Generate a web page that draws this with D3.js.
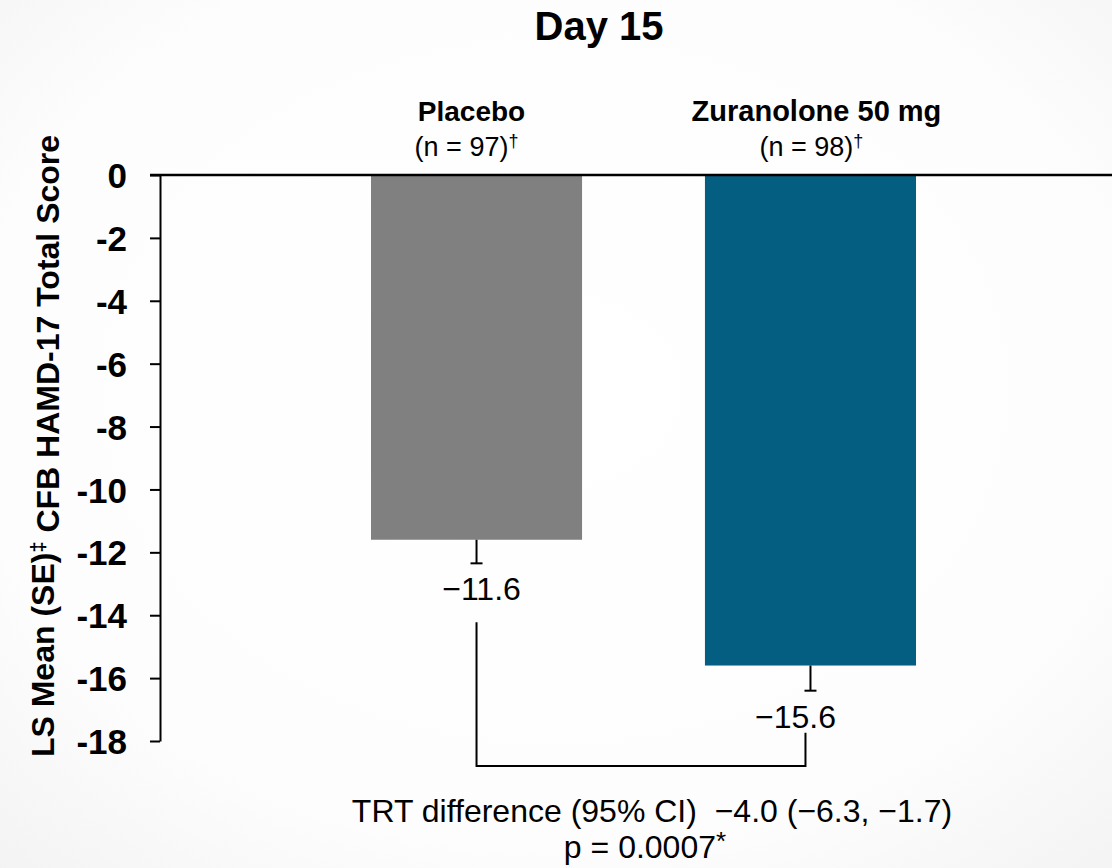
<!DOCTYPE html>
<html>
<head>
<meta charset="utf-8">
<script src="https://cdn.jsdelivr.net/npm/d3@7"></script>
<style>
  html, body { margin: 0; padding: 0; background: #fff; }
  svg { display: block; font-family: Arial, "Liberation Sans", sans-serif; }
</style>
</head>
<body>
<svg id="chart"></svg>
<script>
const groups = ["Placebo", "Zuranolone 50 mg"];
const groupN = ["(n = 97)", "(n = 98)"];
const lsMeans = [-11.6, -15.6];
const seValues = [0.75, 0.8];
const valueLabels = ["\u221211.6", "\u221215.6"];
const yTicks = [0, -2, -4, -6, -8, -10, -12, -14, -16, -18];
const diffText = "TRT difference (95% CI)\u00a0 \u22124.0 (\u22126.3, \u22121.7)";
const pText = "p = 0.0007";
const colors = ["#808080", "#035e82"];

const W = 1112, H = 868;
const svg = d3.select("#chart").attr("width", W).attr("height", H);

// faint backdrop like the slide
const grad = svg.append("defs").append("radialGradient")
  .attr("id", "bg").attr("cx", "50%").attr("cy", "45%").attr("r", "75%");
grad.append("stop").attr("offset", "0%").attr("stop-color", "#ffffff");
grad.append("stop").attr("offset", "70%").attr("stop-color", "#fdfdfd");
grad.append("stop").attr("offset", "100%").attr("stop-color", "#f3f3f3");
svg.append("rect").attr("width", W).attr("height", H).attr("fill", "url(#bg)");

const axisX = 160;
const y = d3.scaleLinear().domain([0, -18]).range([175, 741]);
const x = d3.scaleBand().domain(groups).range([371, 916]).paddingInner(0.368).paddingOuter(0);
const mid = g => x(g) + x.bandwidth() / 2;

// label nudges (layout only)
const headOff = [-5, 6], nOff = [-10, 1], valOff = [5, -15];

// title
svg.append("text")
  .attr("x", 599).attr("y", 40)
  .attr("text-anchor", "middle")
  .style("font-weight", "bold").style("font-size", "40px")
  .text("Day 15");

// bars
svg.selectAll("rect.bar")
  .data(groups)
  .enter().append("rect")
  .attr("class", "bar")
  .attr("x", d => x(d))
  .attr("width", x.bandwidth())
  .attr("y", y(0))
  .attr("height", (d, i) => y(lsMeans[i]) - y(0))
  .attr("fill", (d, i) => colors[i]);

// y axis
const yAxis = d3.axisLeft(y)
  .tickValues(yTicks)
  .tickSize(10)
  .tickSizeOuter(0)
  .tickPadding(23)
  .tickFormat(d => d === 0 ? "0" : "-" + Math.abs(d));

const ga = svg.append("g")
  .attr("transform", "translate(" + axisX + ",0)")
  .call(yAxis);
ga.selectAll("line, path").attr("stroke", "#000").attr("stroke-width", 2);
ga.selectAll("text")
  .attr("fill", "#000")
  .style("font-size", "35px")
  .style("font-weight", "bold")
  .attr("dy", "0.36em");

// zero line across the chart
svg.append("line")
  .attr("x1", axisX - 10).attr("x2", W)
  .attr("y1", y(0)).attr("y2", y(0))
  .attr("stroke", "#000").attr("stroke-width", 2.5);

// y axis title
svg.append("text")
  .attr("transform", "translate(54," + ((y(0) + y(-18)) / 2 - 12) + ") rotate(-90)")
  .attr("text-anchor", "middle")
  .style("font-weight", "bold").style("font-size", "32px")
  .call(t => {
    t.append("tspan").text("LS Mean (SE)");
    t.append("tspan").attr("dy", "-0.45em").style("font-size", "20px").text("\u2021");
    t.append("tspan").attr("dy", "0.45em").text(" CFB HAMD-17 Total Score");
  });

// group headers
groups.forEach((g, i) => {
  svg.append("text")
    .attr("x", mid(g) + headOff[i]).attr("y", 121)
    .attr("text-anchor", "middle")
    .style("font-weight", "bold").style("font-size", i === 0 ? "28px" : "29px")
    .text(g);
  const t = svg.append("text")
    .attr("x", mid(g) + nOff[i]).attr("y", 156)
    .attr("text-anchor", "middle")
    .style("font-size", "27px");
  t.append("tspan").text(groupN[i]);
  t.append("tspan").attr("dy", "-0.5em").style("font-size", "18px").text("\u2020");
});

// error bars (one-sided, downward) and value labels
groups.forEach((g, i) => {
  const cx = mid(g);
  const y1 = y(lsMeans[i]);
  const y2 = y(lsMeans[i] - seValues[i]);
  svg.append("line")
    .attr("x1", cx).attr("x2", cx).attr("y1", y1).attr("y2", y2)
    .attr("stroke", "#000").attr("stroke-width", 2);
  svg.append("line")
    .attr("x1", cx - 6).attr("x2", cx + 6).attr("y1", y2).attr("y2", y2)
    .attr("stroke", "#000").attr("stroke-width", 2);
  svg.append("text")
    .attr("x", cx + valOff[i]).attr("y", y2 + 37)
    .attr("text-anchor", "middle")
    .style("font-size", "32px")
    .text(valueLabels[i]);
});

// comparison bracket
const c0 = mid(groups[0]);
const c1 = mid(groups[1]) - 5;
const bBottom = y(-18) + 25;
svg.append("path")
  .attr("d", "M" + c0 + "," + (y(lsMeans[0] - seValues[0]) + 59) +
             "V" + bBottom + "H" + c1 +
             "V" + (y(lsMeans[1] - seValues[1]) + 42))
  .attr("fill", "none").attr("stroke", "#000").attr("stroke-width", 2);

// difference text
svg.append("text")
  .attr("x", 652).attr("y", 822)
  .attr("text-anchor", "middle")
  .style("font-size", "32px")
  .text(diffText);
const pt = svg.append("text")
  .attr("x", 645).attr("y", 858)
  .attr("text-anchor", "middle")
  .style("font-size", "32px");
pt.append("tspan").text(pText);
pt.append("tspan").attr("dy", "-0.3em").style("font-size", "26px").text("*");
</script>
</body>
</html>
